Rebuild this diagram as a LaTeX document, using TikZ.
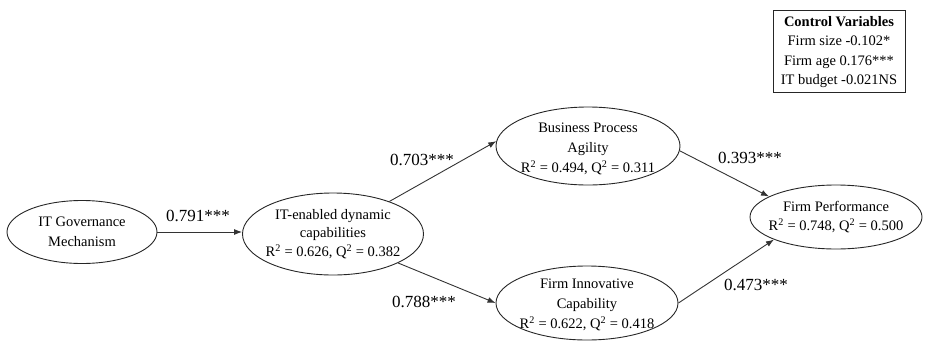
\documentclass[tikz,border=0pt]{standalone}
\usepackage{fontspec}
\setmainfont{Liberation Serif}
\usetikzlibrary{arrows.meta,shapes.geometric}
\begin{document}
\begin{tikzpicture}[x=1pt,y=-1pt,
  ell/.style={ellipse,draw=black!85,line width=0.9pt,inner sep=0pt},
  txt/.style={align=center,inner sep=0pt,font=\fontsize{14.5}{20}\selectfont},
  coef/.style={inner sep=0pt,font=\fontsize{17}{20}\selectfont},
  conn/.style={draw=black!80,line width=0.9pt,-{Latex[length=8pt,width=6pt]}},
  ctrl/.style={draw=black!85,line width=0.9pt,inner sep=0pt,minimum width=132pt,minimum height=82pt}]
\useasboundingbox (0,0) rectangle (927,346);
% ellipses
\node[ell,minimum width=150pt,minimum height=63pt] (itg) at (82,232) {};
\node[ell,minimum width=181pt,minimum height=82pt] (ite) at (333,234) {};
\node[ell,minimum width=184pt,minimum height=78pt] (bpa) at (588,146) {};
\node[ell,minimum width=182pt,minimum height=74pt] (fic) at (587,303) {};
\node[ell,minimum width=172pt,minimum height=64pt] (fp) at (836,217) {};
% texts
\node[txt] (itgt) at (82,232) {IT Governance\\Mechanism};
\node[txt,font=\fontsize{14.5}{18.5}\selectfont] (itet) at (333,234) {IT-enabled dynamic\\capabilities\\R\textsuperscript{2} = 0.626, Q\textsuperscript{2} = 0.382};
\node[txt] (bpat) at (588,149) {Business Process\\Agility\\R\textsuperscript{2} = 0.494, Q\textsuperscript{2} = 0.311};
\node[txt] (fict) at (587,305) {Firm Innovative\\Capability\\R\textsuperscript{2} = 0.622, Q\textsuperscript{2} = 0.418};
\node[txt,font=\fontsize{14.5}{19}\selectfont] (fpt) at (836,217) {Firm Performance\\R\textsuperscript{2} = 0.748, Q\textsuperscript{2} = 0.500};
% control variables
\node[ctrl] (cvbox) at (839,51) {};
\node[txt,font=\fontsize{14.5}{19.3}\selectfont] (cvt) at (839,52) {\textbf{Control Variables}\\Firm size -0.102*\\Firm age 0.176***\\IT budget -0.021NS};
% connectors
\draw[conn] (itg.east) -- (itg.east -| ite.west);
\draw[conn] (ite.30) -- (bpa.177);
\draw[conn] (ite.-24) -- (fic.180);
\draw[conn] (bpa.-3) -- (fp.163);
\draw[conn] (fic.0) -- (fp.-160);
% coefficients
\node[coef] (c1) at (198,216) {0.791***};
\node[coef] (c2) at (422,160) {0.703***};
\node[coef] (c3) at (424,302) {0.788***};
\node[coef] (c4) at (750,158) {0.393***};
\node[coef] (c5) at (756,285) {0.473***};
\end{tikzpicture}
\end{document}
